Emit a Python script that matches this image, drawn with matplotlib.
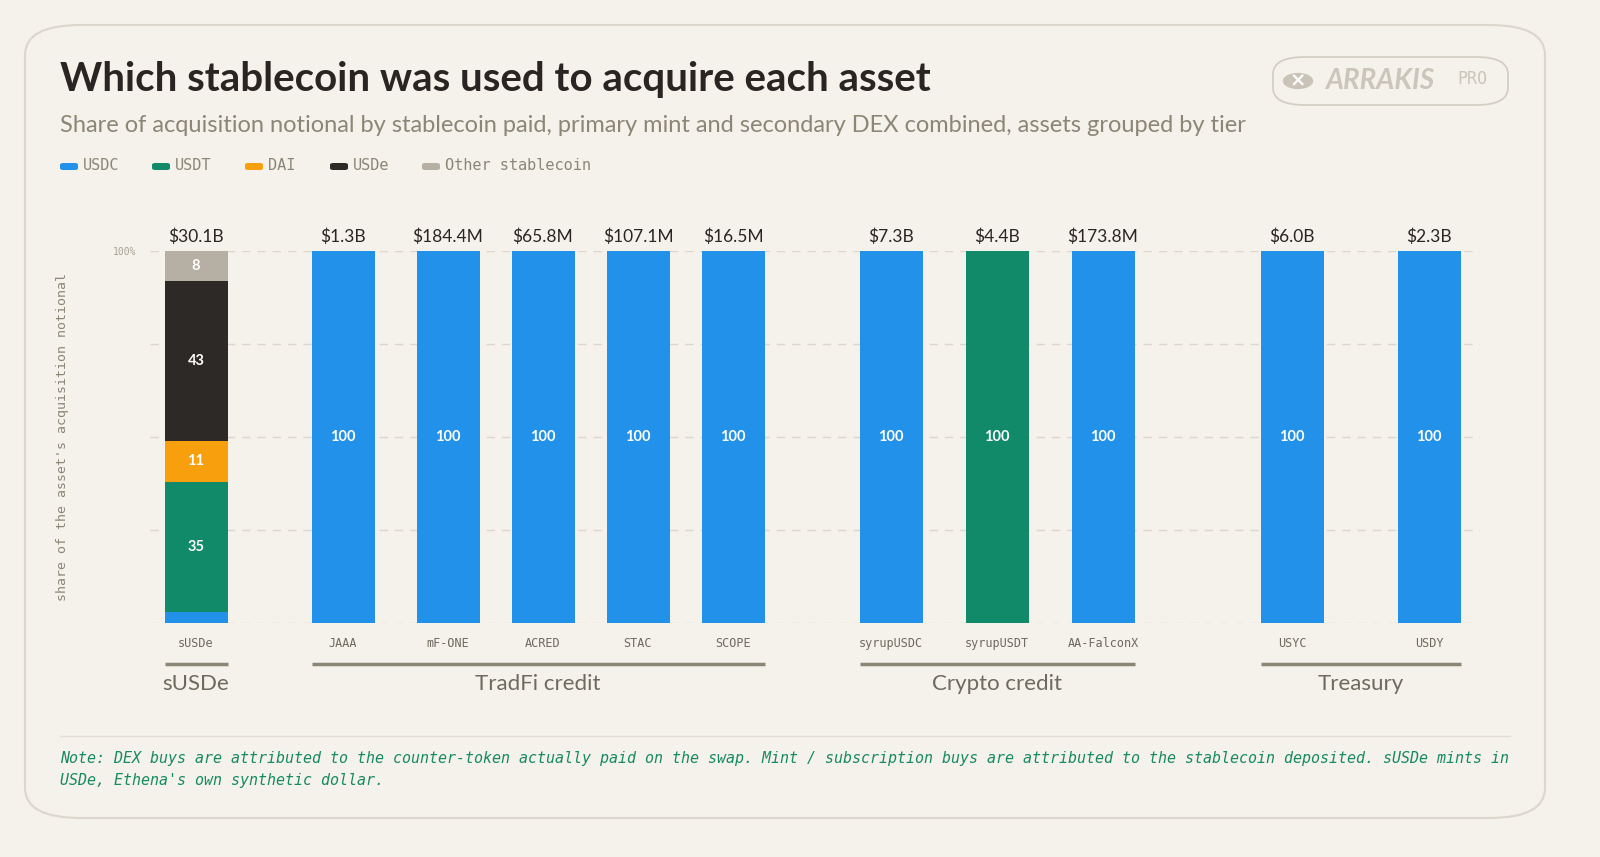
import matplotlib
matplotlib.use("Agg")
import matplotlib.pyplot as plt
from matplotlib.patches import FancyBboxPatch, Circle
import numpy as np

assets = ["sUSDe", "JAAA", "mF-ONE", "ACRED", "STAC", "SCOPE",
          "syrupUSDC", "syrupUSDT", "AA-FalconX", "USYC", "USDY"]
notional = ["$30.1B", "$1.3B", "$184.4M", "$65.8M", "$107.1M", "$16.5M",
            "$7.3B", "$4.4B", "$173.8M", "$6.0B", "$2.3B"]
coins = ["USDC", "USDT", "DAI", "USDe", "Other stablecoin"]
usdc = [3, 100, 100, 100, 100, 100, 100, 0, 100, 100, 100]
usdt = [35, 0, 0, 0, 0, 0, 0, 100, 0, 0, 0]
dai = [11, 0, 0, 0, 0, 0, 0, 0, 0, 0, 0]
usde = [43, 0, 0, 0, 0, 0, 0, 0, 0, 0, 0]
other = [8, 0, 0, 0, 0, 0, 0, 0, 0, 0, 0]
tiers = ["sUSDe", "TradFi credit", "Crypto credit", "Treasury"]
tier_members = [[0], [1, 2, 3, 4, 5], [6, 7, 8], [9, 10]]

colors = ["#2291ea", "#108a68", "#f89f0d", "#2d2927", "#b6afa3"]
BG = "#f5f1eb"
MUTED = "#8c8676"
DARK = "#2a2522"

# bar centres in pixel-like units (layout)
xpos = [196, 343, 448, 543, 638, 733, 891, 997, 1103, 1292, 1429]
bw = 63

fig = plt.figure(figsize=(16, 8.57), dpi=100, facecolor=BG)
box = FancyBboxPatch((25 / 1600, 1 - 818 / 857), 1520 / 1600, 793 / 857,
                     boxstyle="round,pad=0,rounding_size=0.035",
                     transform=fig.transFigure, fc="none", ec="#dcd6cc", lw=1.5, zorder=-5)
fig.patches.append(box)

ax = fig.add_axes([150 / 1600, 1 - 623 / 857, 1330 / 1600, 372 / 857])
ax.set_facecolor("none")
ax.set_xlim(150, 1480)
ax.set_ylim(0, 100)
for y in [0, 25, 50, 75, 100]:
    ax.axhline(y, color="#dcd6cc", lw=1, ls=(0, (6, 5)), zorder=0)
for s in ax.spines.values():
    s.set_visible(False)
ax.set_yticks([100])
ax.set_yticklabels(["100%"], family="DejaVu Sans Mono", fontsize=7, color="#a8a194")
ax.tick_params(axis="y", length=0, pad=10)
ax.set_xticks(xpos)
ax.set_xticklabels(assets, family="DejaVu Sans Mono", fontsize=8.5, color="#6f6a5e")
ax.tick_params(axis="x", length=0, pad=10)

series = [usdc, usdt, dai, usde, other]
bottom = np.zeros(len(assets))
for name, vals, c in zip(coins, series, colors):
    vals = np.array(vals, dtype=float)
    ax.bar(xpos, vals, bw, bottom=bottom, color=c, label=name, zorder=2)
    for xi, b, v in zip(xpos, bottom, vals):
        if v >= 5:
            ax.text(xi, b + v / 2, f"{int(v)}", ha="center", va="center", color="white",
                    fontsize=10.5, fontweight="bold", family="Lato", zorder=3)
    bottom += vals
for xi, lab in zip(xpos, notional):
    ax.text(xi, 101.5, lab, ha="center", va="bottom", fontsize=12.5, color=DARK, family="Lato")

ax.set_ylabel("share of the asset's acquisition notional", family="DejaVu Sans Mono",
              fontsize=9.5, color="#8c8676")
ax.yaxis.set_label_coords(-0.061, 0.5)

for tname, mem in zip(tiers, tier_members):
    x0 = xpos[mem[0]] - bw / 2
    x1 = xpos[mem[-1]] + bw / 2
    ax.plot([x0, x1], [-11, -11], color=MUTED, lw=2.5, clip_on=False, solid_capstyle="butt")
    ax.text((x0 + x1) / 2, -16.5, tname, ha="center", va="center", fontsize=16,
            color="#6f6a5e", family="Lato", clip_on=False)

fig.text(60 / 1600, 1 - 80 / 857, "Which stablecoin was used to acquire each asset",
         fontsize=29, fontweight="bold", color=DARK, family="Lato", va="center")
fig.text(60 / 1600, 1 - 126 / 857,
         "Share of acquisition notional by stablecoin paid, primary mint and secondary DEX combined, assets grouped by tier",
         fontsize=17, color="#8c8676", family="Lato", va="center")

lx = [60, 152, 245, 330, 422]
for x, name, c in zip(lx, coins, colors):
    fig.patches.append(FancyBboxPatch((x / 1600, 1 - 170 / 857), 18 / 1600, 7 / 857,
                                      boxstyle="round,pad=0,rounding_size=0.002",
                                      transform=fig.transFigure, fc=c, ec="none"))
    fig.text((x + 23) / 1600, 1 - 166 / 857, name, family="DejaVu Sans Mono", fontsize=11,
             color="#8c8676", va="center")

# logo
fig.patches.append(FancyBboxPatch((1273 / 1600, 1 - 105 / 857), 235 / 1600, 48 / 857,
                                  boxstyle="round,pad=0,rounding_size=0.02",
                                  transform=fig.transFigure, fc="none", ec="#d2ccc2", lw=1.2))
fig.patches.append(Circle((1298 / 1600, 1 - 81 / 857), 0.0095, transform=fig.transFigure,
                          fc="#c9c3b8", ec="none"))
fig.text(1298 / 1600, 1 - 81 / 857, "×", ha="center", va="center", color="white", fontsize=14,
         fontweight="bold")
fig.text(1325 / 1600, 1 - 81 / 857, "ARRAKIS", fontsize=20, fontweight="bold", style="italic",
         color="#cbc5ba", va="center", family="Lato")
fig.text(1457 / 1600, 1 - 79 / 857, "PRO", fontsize=12, color="#cbc5ba", va="center",
         family="DejaVu Sans Mono")

fig.add_artist(plt.Line2D([60 / 1600, 1510 / 1600], [1 - 736 / 857, 1 - 736 / 857],
                          transform=fig.transFigure, color="#e4dfd6", lw=1))
fig.text(60 / 1600, 1 - 758 / 857,
         "Note: DEX buys are attributed to the counter-token actually paid on the swap. Mint / subscription buys are attributed to the stablecoin deposited. sUSDe mints in",
         family="DejaVu Sans Mono", style="italic", fontsize=10.8, color="#168a62", va="center")
fig.text(60 / 1600, 1 - 780 / 857, "USDe, Ethena's own synthetic dollar.",
         family="DejaVu Sans Mono", style="italic", fontsize=10.8, color="#168a62", va="center")

fig.savefig("out.png", dpi=100, facecolor=BG)
